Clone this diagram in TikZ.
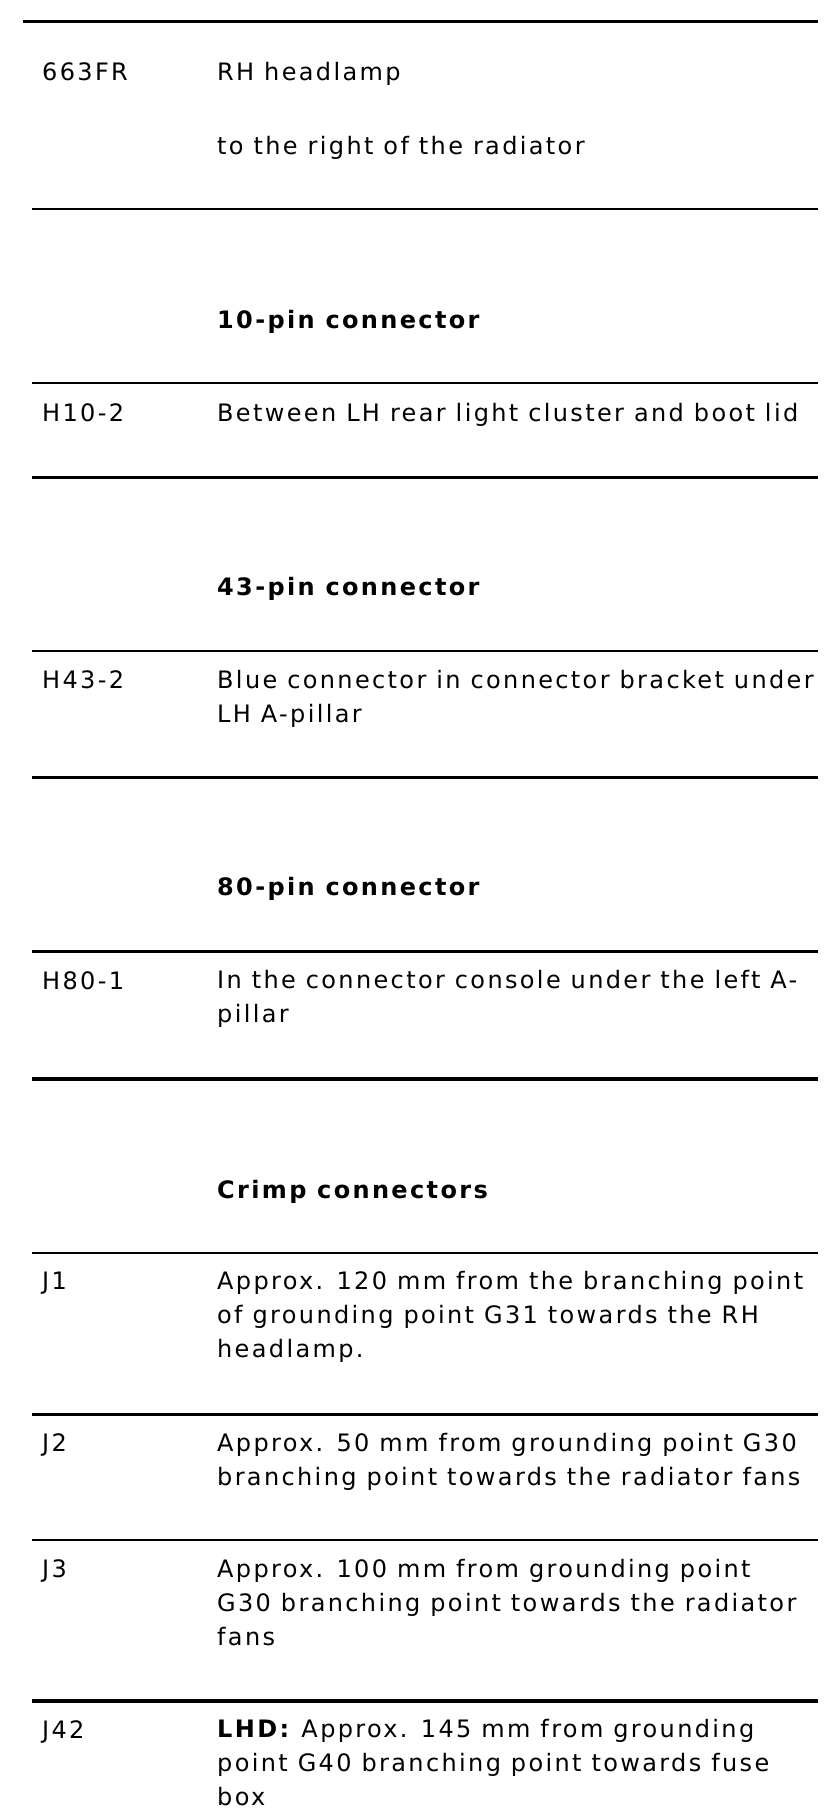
\documentclass[tikz,border=0pt]{standalone}
\usepackage{fontspec}
\setmainfont{DejaVu Sans}[LetterSpace=9.8]
\tikzset{
  cell/.style={anchor=base west, inner sep=0pt, align=left,
    font=\fontsize{24}{34}\selectfont},
  head/.style={cell, font=\fontsize{24}{34}\selectfont\bfseries},
}

\begin{document}
\begin{tikzpicture}[x=1pt,y=-1pt,line cap=butt]
\useasboundingbox (0,0) rectangle (832,1820);
% table rules
\draw[line width=3pt] (23,21) -- (818,21);
\foreach \y/\w in {209/2.5,383/2.5,477/3,651/2.5,777/3,951/3,1079/4,1253/2,1414/3,1540/2,1701/4}
\draw[line width=\w pt] (32,\y) -- (818,\y);
% rows (multi-line cells sit on their last baseline)
\node[cell] (c663) at (42,80) {663FR};
\node[cell] (d663) at (217,80) {RH headlamp};
\node[cell] (d663b) at (217,154) {to the right of the radiator};
\node[head] (h10) at (217,328) {10-pin connector};
\node[cell] (cH10) at (42,421) {H10-2};
\node[cell] (dH10) at (217,421) {Between LH rear light cluster and boot lid};
\node[head] (h43) at (217,595) {43-pin connector};
\node[cell] (cH43) at (42,688) {H43-2};
\node[cell] (dH43) at (217,722) {Blue connector in connector bracket under\\LH A-pillar};
\node[head] (h80) at (217,895) {80-pin connector};
\node[cell] (cH80) at (42,989) {H80-1};
\node[cell] (dH80) at (217,1022) {In the connector console under the left A-\\pillar};
\node[head] (hJ) at (217,1198) {Crimp connectors};
\node[cell] (cJ1) at (42,1289) {J1};
\node[cell] (dJ1) at (217,1357) {Approx. 120 mm from the branching point\\of grounding point G31 towards the RH\\headlamp.};
\node[cell] (cJ2) at (42,1451) {J2};
\node[cell] (dJ2) at (217,1485) {Approx. 50 mm from grounding point G30\\branching point towards the radiator fans};
\node[cell] (cJ3) at (42,1577) {J3};
\node[cell] (dJ3) at (217,1645) {Approx. 100 mm from grounding point\\G30 branching point towards the radiator\\fans};
\node[cell] (cJ42) at (42,1738) {J42};
\node[cell] (dJ42) at (217,1805) {\textbf{LHD:} Approx. 145 mm from grounding\\point G40 branching point towards fuse\\box};
\end{tikzpicture}
\end{document}
